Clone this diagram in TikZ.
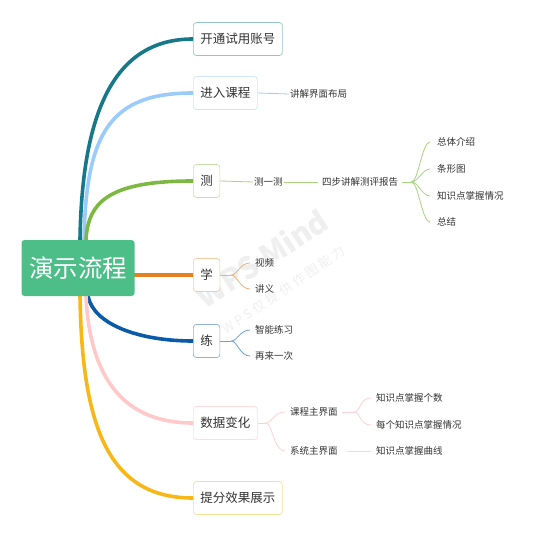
\documentclass[tikz,border=0pt]{standalone}
\usepackage{fontspec}
\setmainfont{Noto Sans CJK SC}
\usetikzlibrary{backgrounds}
\definecolor{txt}{HTML}{333333}
\definecolor{rootc}{HTML}{4DBE88}
\definecolor{cA}{HTML}{17788A}\definecolor{bA}{HTML}{95C3CD}
\definecolor{cB}{HTML}{9ACBFA}\definecolor{bB}{HTML}{CFE6FC}
\definecolor{cC}{HTML}{7DB843}\definecolor{bC}{HTML}{C6E1AA}\definecolor{lC}{HTML}{A9D37F}
\definecolor{cD}{HTML}{E67E22}\definecolor{bD}{HTML}{F4CBA8}\definecolor{lD}{HTML}{EDB07E}
\definecolor{cE}{HTML}{0B5AA8}\definecolor{bE}{HTML}{8DB3DA}\definecolor{lE}{HTML}{6F9ED0}
\definecolor{cF}{HTML}{FFC9C9}\definecolor{bF}{HTML}{FFDCDC}\definecolor{lF}{HTML}{FFD2D2}
\definecolor{cG}{HTML}{F7B718}\definecolor{bG}{HTML}{F8DE96}
\definecolor{wm}{HTML}{EFEFEF}
\tikzset{
  rootbox/.style={fill=rootc, rounded corners=3pt, text=white, font=\fontsize{24.5}{24.5}\selectfont,
    minimum width=113pt, minimum height=56pt, inner sep=0pt},
  mainbox/.style={draw, fill=white, rounded corners=3pt, line width=0.7pt, text=txt,
    font=\fontsize{12.5}{12.5}\selectfont, minimum height=33pt, inner xsep=7pt, anchor=west},
  leaf/.style={text=txt, font=\fontsize{9.5}{9.5}\selectfont, inner sep=1pt, anchor=west},
  branch/.style={line width=3.6pt, line cap=round},
  twig/.style={line width=0.8pt},
}
\begin{document}
\begin{tikzpicture}[x=1pt,y=-1pt]
\useasboundingbox (0,0) rectangle (534,540);
% watermark
\node[text=wm, font=\fontsize{30}{30}\selectfont\bfseries, rotate=33] (wm1) at (262,258) {WPS Mind};
\node[text=wm, font=\fontsize{13}{13}\selectfont, rotate=34] (wm2) at (284,290) {W P S 仅 提 供 作 图 能 力};

\node[rootbox] (root) at (78,268) {演示流程};
\node[mainbox, draw=bA] (kt) at (193,39) {开通试用账号};
\node[mainbox, draw=bB] (jr) at (193,93) {进入课程};
\node[mainbox, draw=bC] (ce) at (193,181) {测};
\node[mainbox, draw=bD] (xue) at (193,275) {学};
\node[mainbox, draw=bE] (lian) at (193,341) {练};
\node[mainbox, draw=bF] (sj) at (193,423) {数据变化};
\node[mainbox, draw=bG] (tf) at (193,498) {提分效果展示};

\node[leaf] (jj) at (289,94) {讲解界面布局};
\node[leaf] (cyc) at (253,182) {测一测};
\node[leaf] (sb) at (321,182) {四步讲解测评报告};
\node[leaf] (zt) at (436,142) {总体介绍};
\node[leaf] (tx) at (436,169) {条形图};
\node[leaf] (zs) at (436,196) {知识点掌握情况};
\node[leaf] (zj) at (436,222) {总结};
\node[leaf] (sp) at (254,263) {视频};
\node[leaf] (jy) at (254,289) {讲义};
\node[leaf] (zn) at (254,330) {智能练习};
\node[leaf] (zl) at (254,356) {再来一次};
\node[leaf] (kc) at (289,412) {课程主界面};
\node[leaf] (xt) at (289,451) {系统主界面};
\node[leaf] (gs) at (375,398) {知识点掌握个数};
\node[leaf] (mg) at (375,425) {每个知识点掌握情况};
\node[leaf] (qx) at (375,451) {知识点掌握曲线};

\begin{pgfonlayer}{background}
\draw[branch, cA] ([xshift=2pt]root.north) .. controls (82,110) and (115,39) .. (kt.west);
\draw[branch, cB] ([xshift=6pt]root.north) .. controls (86,130) and (112,93) .. (jr.west);
\draw[branch, cC] ([xshift=8pt]root.north) .. controls (88,200) and (112,181) .. (ce.west);
\draw[branch, cD] (xue.west -| root.east) -- (xue.west);
\draw[branch, cE] ([xshift=10pt]root.south) .. controls (94,325) and (140,341) .. (lian.west);
\draw[branch, cF] ([xshift=8pt]root.south) .. controls (90,380) and (125,423) .. (sj.west);
\draw[branch, cG] ([xshift=2pt]root.south) .. controls (82,430) and (110,498) .. (tf.west);
\end{pgfonlayer}

\draw[twig, cB] (jr.east) -- (jj.west);
\draw[twig, lC] (ce.east) -- (cyc.west);
\draw[twig, lC] (cyc.east) -- ([xshift=-3pt]sb.west);
\coordinate (bc) at ([xshift=12pt]sb.east);
\draw[twig, lC] ([xshift=3pt]sb.east) -- (bc);
\foreach \n in {zt,tx,zs,zj}
  \draw[twig, lC] (bc) .. controls ++(7,0) and ([xshift=-14pt]\n.west) .. ([xshift=-6pt]\n.west);
\coordinate (bx) at ([xshift=11pt]xue.east);
\draw[twig, lD] (xue.east) -- (bx);
\foreach \n in {sp,jy}
  \draw[twig, lD] (bx) .. controls ++(6,0) and ([xshift=-14pt]\n.west) .. ([xshift=-4pt]\n.west);
\coordinate (bl) at ([xshift=11pt]lian.east);
\draw[twig, lE] (lian.east) -- (bl);
\foreach \n in {zn,zl}
  \draw[twig, lE] (bl) .. controls ++(6,0) and ([xshift=-14pt]\n.west) .. ([xshift=-4pt]\n.west);
\coordinate (bs) at ([xshift=8pt]sj.east);
\draw[twig, lF] (sj.east) -- (bs);
\foreach \n in {kc,xt}
  \draw[twig, lF] (bs) .. controls ++(7,0) and ([xshift=-16pt]\n.west) .. ([xshift=-4pt]\n.west);
\coordinate (bk) at ([xshift=15pt]kc.east);
\draw[twig, lF] ([xshift=3pt]kc.east) -- (bk);
\foreach \n in {gs,mg}
  \draw[twig, lF] (bk) .. controls ++(7,0) and ([xshift=-16pt]\n.west) .. ([xshift=-4pt]\n.west);
\draw[twig, lF] ([xshift=8pt]xt.east) -- ([xshift=-4pt]qx.west);
\end{tikzpicture}
\end{document}
